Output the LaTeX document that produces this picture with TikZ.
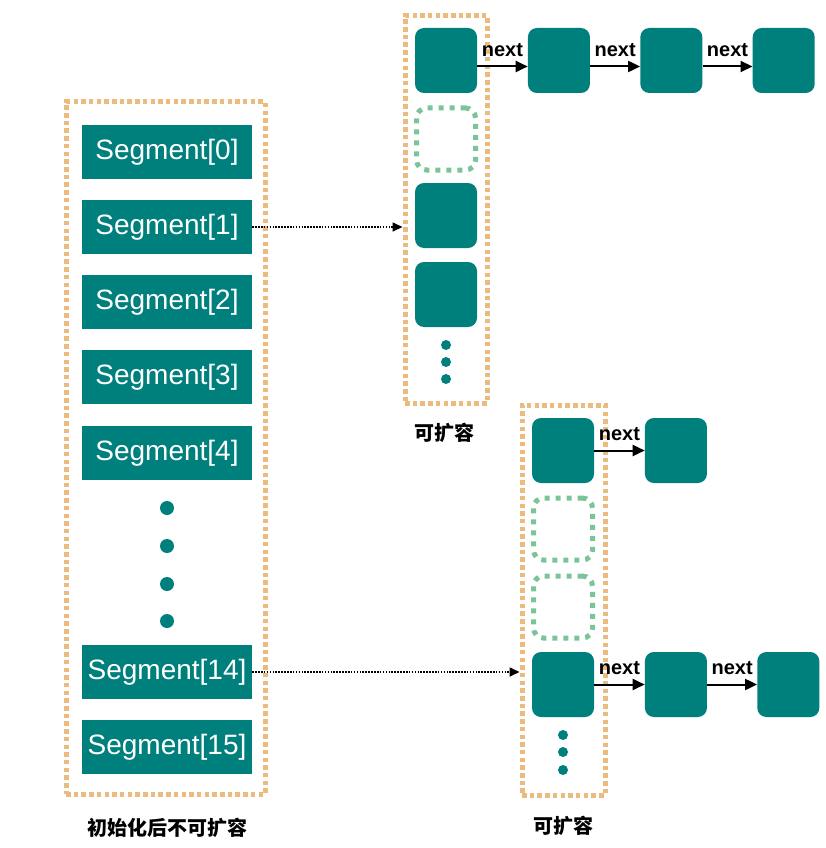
\documentclass[tikz,border=0pt]{standalone}
\usepackage{fontspec}
\setmainfont{Liberation Sans}
\newfontfamily\cjk{Noto Sans CJK SC}
\usetikzlibrary{arrows.meta,positioning}
\definecolor{segteal}{RGB}{0,128,125}
\definecolor{dotorange}{RGB}{234,186,126}
\definecolor{dotgreen}{RGB}{122,196,152}
\tikzset{
  segbox/.style={fill=segteal, text=white, minimum width=170pt, minimum height=54pt,
    inner sep=0pt, font=\fontsize{28}{28}\selectfont},
  bucket/.style={fill=segteal, rounded corners=9pt, minimum width=62pt, minimum height=65pt},
  emptybucket/.style={draw=dotgreen, line width=5pt, dash pattern=on 5pt off 6pt,
    rounded corners=10pt, minimum width=59pt, minimum height=62pt},
  orangebox/.style={draw=dotorange, line width=5pt, dash pattern=on 4.5pt off 3.2pt},
  bigdot/.style={circle, fill=segteal, inner sep=0pt, minimum size=14pt},
  smalldot/.style={circle, fill=segteal, inner sep=0pt, minimum size=10pt},
  nextarrow/.style={-{Triangle[length=12pt,width=11pt]}, line width=2pt},
  ptrarrow/.style={-{Triangle[length=10pt,width=9pt]}, line width=1.6pt,
    dash pattern=on 1.6pt off 1.3pt},
  nextlabel/.style={font=\bfseries\fontsize{20}{20}\selectfont, inner sep=0pt},
  caption/.style={font=\cjk\bfseries\fontsize{20}{20}\selectfont}
}
\begin{document}
\begin{tikzpicture}[x=1pt, y=-1pt]
\useasboundingbox (0,0) rectangle (825,848);
% Segment array (fixed size)
\node[orangebox, minimum width=199pt, minimum height=692pt] (segarray) at (165.5,448) {};
\foreach \i/\y in {0/152, 1/227, 2/302, 3/377, 4/453, 14/672, 15/747}
  \node[segbox] (seg\i) at (167,\y) {Segment[\i]};
\foreach \y [count=\k] in {508, 546, 584, 621}
  \node[bigdot] (segdot\k) at (167,\y) {};
\node[caption] (capseg) at (167,828) {初始化后不可扩容};
% Table of Segment[1]
\node[orangebox, minimum width=82pt, minimum height=387pt] (tabA) at (446,209.5) {};
\node[bucket] (a0) at (446,60.5) {};
\node[emptybucket] (a1) at (446,139) {};
\node[bucket] (a2) at (446,215.5) {};
\node[bucket] (a3) at (446,294.5) {};
\foreach \y [count=\k] in {345, 362, 379}
  \node[smalldot] (adot\k) at (446,\y) {};
\node[caption] (capA) at (444,433) {可扩容};
% linked list in a0
\node[bucket, right=50.5pt of a0] (a0n1) {};
\node[bucket, right=50pt of a0n1] (a0n2) {};
\node[bucket, right=50pt of a0n2] (a0n3) {};
\draw[nextarrow] ([yshift=-6pt]a0.east) -- node[nextlabel, above=9pt] {next} ([yshift=-6pt]a0n1.west);
\draw[nextarrow] ([yshift=-6pt]a0n1.east) -- node[nextlabel, above=9pt] {next} ([yshift=-6pt]a0n2.west);
\draw[nextarrow] ([yshift=-6pt]a0n2.east) -- node[nextlabel, above=9pt] {next} ([yshift=-6pt]a0n3.west);
% Table of Segment[14]
\node[orangebox, minimum width=83pt, minimum height=390pt] (tabB) at (563.5,600) {};
\node[bucket] (b0) at (563,450.5) {};
\node[emptybucket] (b1) at (563,529) {};
\node[emptybucket] (b2) at (563,607) {};
\node[bucket] (b3) at (563,684.5) {};
\foreach \y [count=\k] in {735, 752, 770}
  \node[smalldot] (bdot\k) at (563,\y) {};
\node[caption] (capB) at (563,826) {可扩容};
% linked lists in b0 and b3
\node[bucket, right=50.5pt of b0] (b0n1) {};
\node[bucket, right=50.5pt of b3] (b3n1) {};
\node[bucket, right=50pt of b3n1] (b3n2) {};
\draw[nextarrow] (b0.east) -- node[nextlabel, above=9pt] {next} (b0n1.west);
\draw[nextarrow] (b3.east) -- node[nextlabel, above=9pt] {next} (b3n1.west);
\draw[nextarrow] (b3n1.east) -- node[nextlabel, above=9pt] {next} (b3n2.west);
% pointers from segments to their tables
\draw[ptrarrow] (seg1.east) -- (seg1.east -| tabA.west);
\draw[ptrarrow] (seg14.east) -- (seg14.east -| tabB.west);
\end{tikzpicture}
\end{document}
